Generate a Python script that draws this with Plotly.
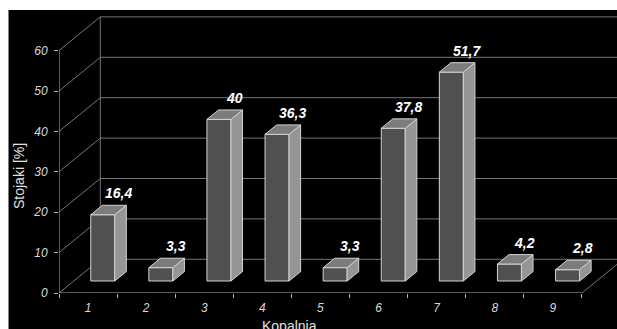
import plotly.graph_objects as go

# ---- data ----
categories = [1, 2, 3, 4, 5, 6, 7, 8, 9]
cat_labels = ["1", "2", "3", "4", "5", "6", "7", "8", "9"]
values = [16.4, 3.3, 40, 36.3, 3.3, 37.8, 51.7, 4.2, 2.8]
y_ticks = [0, 10, 20, 30, 40, 50, 60]
x_title = "Kopalnia"
y_title = "Stojaki [%]"

# ---- geometry (pseudo 3D) ----
W_PX, H_PX = 617, 329
ML, MR, MT, MB = 59, 0, 10, 36
PX_X = 58.1          # pixels per category
PX_Y = 4.04          # pixels per value unit
plot_w = W_PX - ML - MR
plot_h = H_PX - MT - MB
x_min = 0.5
x_max = x_min + plot_w / PX_X
y_max = plot_h / PX_Y
DX = 41.3 / PX_X     # depth offset in x units
DY = 33.7 / PX_Y     # depth offset in y units
F0, F1 = 0.356, 0.636  # bar front/back depth fractions
BW = 24 / PX_X         # bar width

FONT = "Liberation Sans, Arial, sans-serif"
GRID = "#767676"
AXIS = "#b4b4b4"
EDGE = "#d4d4d4"

fig = go.Figure()

shapes = []
def seg(x0, y0, x1, y1, color, width=1):
    shapes.append(dict(type="line", xref="x", yref="y", x0=x0, y0=y0, x1=x1, y1=y1,
                       line=dict(color=color, width=width), layer="below"))

n = len(categories)
x_first = categories[0] - 0.5
x_last = categories[-1] + 0.5
for v in y_ticks:
    seg(x_first + DX, v + DY, x_max + 1, v + DY, GRID)      # back wall grid
    seg(x_first, v, x_first + DX, v + DY, GRID)             # left wall diagonals
seg(x_first + DX, DY, x_first + DX, y_ticks[-1] + DY, GRID)  # back wall corner
seg(x_last, 0, x_last + DX, DY, GRID)                        # floor right edge
seg(x_first, 0, x_last, 0, AXIS)                             # floor front edge
seg(x_first, 0, x_first, y_ticks[-1], AXIS)                  # front value axis

# white frame strips (top and left)
shapes.append(dict(type="rect", xref="paper", yref="paper",
                   x0=-ML / plot_w - 0.01, x1=1.01, y0=1.0, y1=1 + MT / plot_h + 0.01,
                   fillcolor="white", line=dict(width=0), layer="above"))
shapes.append(dict(type="rect", xref="paper", yref="paper",
                   x0=-ML / plot_w - 0.01, x1=-ML / plot_w + 8.5 / plot_w,
                   y0=-MB / plot_h - 0.01, y1=1 + MT / plot_h + 0.01,
                   fillcolor="white", line=dict(width=0), layer="above"))

# front faces
fig.add_trace(go.Bar(
    x=[c + F0 * DX for c in categories], y=values, base=[F0 * DY] * n, width=BW,
    marker=dict(color="#505050", line=dict(color=EDGE, width=1)),
    hoverinfo="skip", showlegend=False))

# side and top faces
ddx = (F1 - F0) * DX
ddy = (F1 - F0) * DY
sx, sy, tx, ty = [], [], [], []
for c, v in zip(categories, values):
    xl = c + F0 * DX - BW / 2
    xr = c + F0 * DX + BW / 2
    yb = F0 * DY
    yt = v + F0 * DY
    sx += [xr, xr + ddx, xr + ddx, xr, xr, None]
    sy += [yb, yb + ddy, yt + ddy, yt, yb, None]
    tx += [xl, xr, xr + ddx, xl + ddx, xl, None]
    ty += [yt, yt, yt + ddy, yt + ddy, yt, None]
fig.add_trace(go.Scatter(x=sx, y=sy, mode="lines", fill="toself", fillcolor="#959595",
                         line=dict(color=EDGE, width=1), hoverinfo="skip", showlegend=False))
fig.add_trace(go.Scatter(x=tx, y=ty, mode="lines", fill="toself", fillcolor="#7c7c7c",
                         line=dict(color=EDGE, width=1), hoverinfo="skip", showlegend=False))

# value labels
annotations = []
for c, v in zip(categories, values):
    txt = ("%g" % v).replace(".", ",")
    annotations.append(dict(x=c + 30 / PX_X, y=v + F1 * DY, xref="x", yref="y",
                            text=txt, showarrow=False, yanchor="bottom", yshift=2,
                            font=dict(family=FONT, size=14, color="white",
                                      weight="bold", style="italic")))
annotations.append(dict(x=(289.5 - ML) / plot_w, y=(H_PX - MB - 326) / plot_h,
                        xref="paper", yref="paper", text=x_title, showarrow=False,
                        xanchor="center", yanchor="middle",
                        font=dict(family=FONT, size=14, color="#e0e0e0")))
annotations.append(dict(x=(19 - ML) / plot_w, y=(H_PX - MB - 176) / plot_h,
                        xref="paper", yref="paper", text=y_title, showarrow=False,
                        textangle=-90, xanchor="center", yanchor="middle",
                        font=dict(family=FONT, size=14, color="#e0e0e0")))

fig.update_layout(
    width=W_PX, height=H_PX,
    margin=dict(l=ML, r=MR, t=MT, b=MB, pad=0),
    paper_bgcolor="black", plot_bgcolor="black",
    shapes=shapes, annotations=annotations,
    xaxis=dict(range=[x_min, x_max], showgrid=False, zeroline=False, showline=False,
               tickmode="array", tickvals=categories, ticktext=cat_labels, ticks="",
               ticklabelstandoff=6,
               tickfont=dict(family=FONT, size=12, color="#d8d8d8", style="italic"),
               minor=dict(tickmode="linear", tick0=0.5, dtick=1, ticks="outside",
                          ticklen=4, tickcolor=AXIS, tickwidth=1, showgrid=False),
               fixedrange=True),
    yaxis=dict(range=[0, y_max], showgrid=False, zeroline=False, showline=False,
               tickmode="array", tickvals=y_ticks, ticks="outside", ticklen=4,
               tickcolor=AXIS, ticklabelstandoff=4,
               tickfont=dict(family=FONT, size=12, color="#d8d8d8", style="italic"),
               fixedrange=True),
    showlegend=False,
)

fig.write_html("out.html")
